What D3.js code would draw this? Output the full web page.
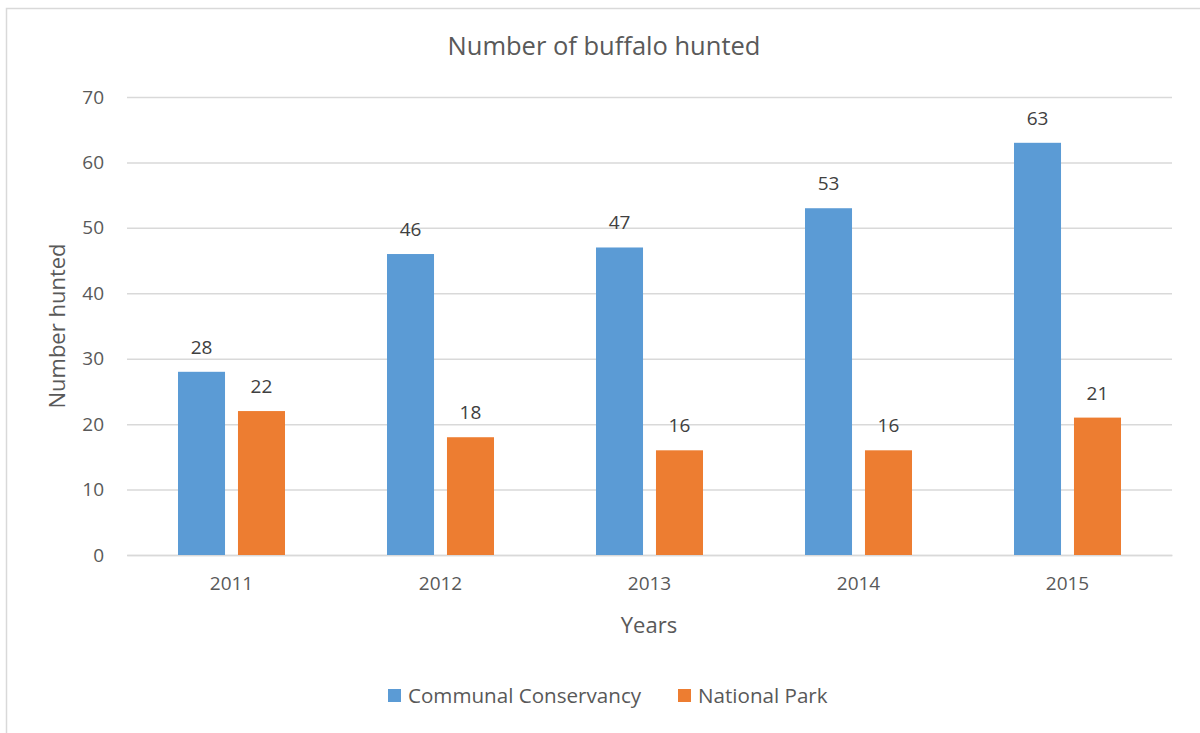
<!DOCTYPE html>
<html>
<head>
<meta charset="utf-8">
<script src="https://cdn.jsdelivr.net/npm/d3@7"></script>
<style>
  html, body { margin: 0; padding: 0; background: #fff; }
  svg { display: block; font-family: "Open Sans", Lato, sans-serif; }
</style>
</head>
<body>
<svg id="chart" width="1200" height="733"></svg>
<script>
// Buffalo hunted per year, by land type
const years = ["2011", "2012", "2013", "2014", "2015"];
const seriesNames = ["Communal Conservancy", "National Park"];
const communalConservancy = [28, 46, 47, 53, 63];
const nationalPark = [22, 18, 16, 16, 21];
const yTicks = [0, 10, 20, 30, 40, 50, 60, 70];
const colors = ["#5B9BD5", "#ED7D31"];

const FONT = "'Open Sans', Lato, sans-serif";
const svg = d3.select("#chart");
const W = 1200, H = 733;
const plot = { left: 127, right: 1172, top: 97, bottom: 555 };

// outer frame of the chart area
svg.append("rect")
  .attr("x", 6.5).attr("y", 8.5)
  .attr("width", W + 10).attr("height", H + 10)
  .attr("fill", "#fff").attr("stroke", "#d9d9d9").attr("stroke-width", 1.5);

const x = d3.scaleBand().domain(years).range([plot.left, plot.right]).padding(0);
const y = d3.scaleLinear().domain([0, 70]).range([plot.bottom, plot.top]);

// two bars per year with a small gap between them
const barW = x.bandwidth() * 0.225;
const gap = x.bandwidth() * 0.062;
const xs = d3.scaleBand().domain(seriesNames)
  .range([(x.bandwidth() - 2 * barW - gap) / 2, (x.bandwidth() + 2 * barW + gap) / 2])
  .paddingInner(gap / (barW + gap))
  .paddingOuter(0);

// horizontal gridlines + value axis
const yAxis = d3.axisLeft(y).tickValues(yTicks).tickSize(-(plot.right - plot.left)).tickPadding(23);
const gy = svg.append("g").attr("transform", `translate(${plot.left},0)`).call(yAxis);
gy.select(".domain").remove();
gy.selectAll(".tick line").attr("stroke", "#d9d9d9").attr("stroke-width", 1.5);
gy.selectAll(".tick text").attr("fill", "#595959").style("font-size", "19px")
  .style("font-family", FONT);

// category axis
const xAxis = d3.axisBottom(x).tickSize(0).tickPadding(22);
const gx = svg.append("g").attr("transform", `translate(0,${plot.bottom})`).call(xAxis);
gx.select(".domain").attr("stroke", "#d9d9d9").attr("stroke-width", 1.5);
gx.selectAll(".tick text").attr("fill", "#595959").style("font-size", "19px")
  .style("font-family", FONT);

const rows = years.map((yr, i) => ({ year: yr, values: [communalConservancy[i], nationalPark[i]] }));

const groups = svg.append("g").selectAll("g").data(rows).join("g")
  .attr("transform", d => `translate(${x(d.year)},0)`);

groups.selectAll("rect").data(d => d.values.map((v, j) => ({ name: seriesNames[j], v, j })))
  .join("rect")
  .attr("x", d => xs(d.name))
  .attr("width", xs.bandwidth())
  .attr("y", d => y(d.v))
  .attr("height", d => y(0) - y(d.v))
  .attr("fill", d => colors[d.j]);

// value labels above bars
groups.selectAll("text.val").data(d => d.values.map((v, j) => ({ name: seriesNames[j], v, j })))
  .join("text").attr("class", "val")
  .attr("x", d => xs(d.name) + xs.bandwidth() / 2)
  .attr("y", d => y(d.v) - 18)
  .attr("text-anchor", "middle")
  .attr("fill", "#404040")
  .style("font-size", "19px")
  .text(d => d.v);

// chart title
svg.append("text").attr("x", 604).attr("y", 55).attr("text-anchor", "middle")
  .attr("fill", "#595959").style("font-size", "25.5px").text("Number of buffalo hunted");

// axis titles
svg.append("text").attr("x", 649).attr("y", 633).attr("text-anchor", "middle")
  .attr("fill", "#595959").style("font-size", "22px").text("Years");
svg.append("text").attr("transform", "translate(65,326) rotate(-90)").attr("text-anchor", "middle")
  .attr("fill", "#595959").style("font-size", "22px").text("Number hunted");

// legend
const legend = svg.append("g").attr("transform", "translate(388,696)");
const legendX = [0, 290];
seriesNames.forEach((name, i) => {
  const g = legend.append("g").attr("transform", `translate(${legendX[i]},0)`);
  g.append("rect").attr("x", 0).attr("y", -7).attr("width", 13).attr("height", 13).attr("fill", colors[i]);
  g.append("text").attr("x", 20).attr("y", 7).attr("fill", "#595959")
    .style("font-size", "20.6px").text(name);
});
</script>
</body>
</html>
